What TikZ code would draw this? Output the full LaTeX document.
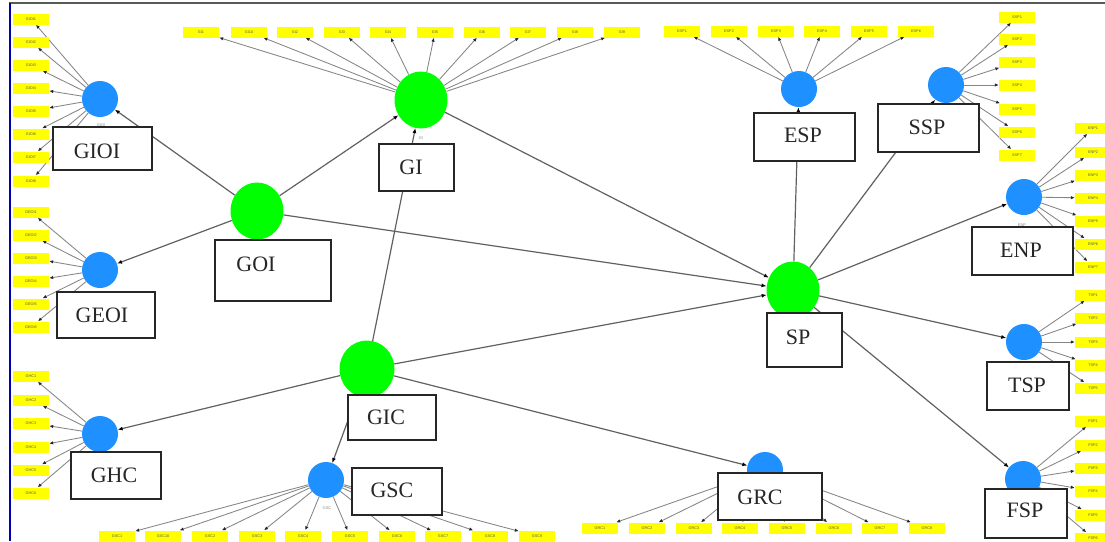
\documentclass[tikz,border=0pt]{standalone}
\usepackage{fontspec}
\setmainfont{Liberation Serif}
\newfontfamily\indfont{Liberation Sans}
\usetikzlibrary{arrows.meta,shapes.geometric}
\definecolor{lvblue}{HTML}{1E90FF}
\definecolor{lvgreen}{HTML}{00FF00}
\definecolor{indyellow}{HTML}{FFFF00}
\pgfdeclarelayer{bg}
\pgfdeclarelayer{paper}
\pgfsetlayers{paper,bg,main}
\begin{document}
\begin{tikzpicture}[x=1pt,y=-1pt,
  blv/.style={circle,fill=lvblue,minimum size=36pt,inner sep=0pt},
  glv/.style={ellipse,fill=lvgreen,minimum width=53pt,minimum height=57pt,inner sep=0pt},
  ind/.style={fill=indyellow,minimum width=36pt,minimum height=11pt,inner sep=0pt,font=\indfont\fontsize{3.8}{4}\selectfont,text=black!65},
  iarr/.style={draw=black!48,line width=0.85pt,-{Latex[length=4pt,width=3.4pt,color=black!85]}},
  sarr/.style={draw=black!62,line width=1.2pt,-{Latex[length=5pt,width=4pt,color=black]}},
  boxs/.style={draw=black!85,line width=1.5pt,fill=white,inner sep=0pt},
  btxt/.style={font=\fontsize{22}{22}\selectfont,text=black!85,inner sep=0pt},
  tinyl/.style={font=\indfont\fontsize{4}{4}\selectfont,text=black!45,inner sep=0pt}
]
\useasboundingbox (0,0) rectangle (1105,541);
\begin{pgfonlayer}{paper}
\fill[white] (0,0) rectangle (1105,541);
\end{pgfonlayer}
% frame
\draw[black!65,line width=1.5pt] (9,3) -- (1105,3);
\draw[blue!70!black,line width=2pt] (10,3) -- (10,541);

% latent variables
\node[blv] (GIOI) at (100,99) {};
\node[blv] (GEOI) at (100,270) {};
\node[blv] (GHC) at (100,434) {};
\node[blv] (GSC) at (326,480) {};
\node[blv] (GRC) at (765,470) {};
\node[blv] (ESP) at (799,89) {};
\node[blv] (SSP) at (946,85) {};
\node[blv] (ENP) at (1024,197) {};
\node[blv] (TSP) at (1024,342) {};
\node[blv] (FSP) at (1023,479) {};
\node[glv] (GI) at (421,100) {};
\node[glv] (GOI) at (257,211) {};
\node[glv,minimum width=55pt] (GIC) at (367,369) {};
\node[glv] (SP) at (793,290) {};

% tiny labels
\node[tinyl] (GIOIs) at (101,125) {GIOI};
\node[tinyl] (GIs) at (421,138) {GI};
\node[tinyl] (GSCs) at (327,508) {GSC};
\node[tinyl] (ENPs) at (1022,225) {ENP};

% indicators
\foreach \n/\y [count=\k] in {GIOI1/19,GIOI2/42,GIOI3/65,GIOI4/88,GIOI5/111,GIOI6/134,GIOI7/157,GIOI8/181}{
  \node[ind] (GIOIi\k) at (31,\y) {\n};
  \begin{pgfonlayer}{bg}\draw[iarr] (GIOI) -- (GIOIi\k);\end{pgfonlayer}}
\foreach \n/\y [count=\k] in {GEOI1/212,GEOI2/235,GEOI3/258,GEOI4/281,GEOI5/304,GEOI6/327}{
  \node[ind] (GEOIi\k) at (31,\y) {\n};
  \begin{pgfonlayer}{bg}\draw[iarr] (GEOI) -- (GEOIi\k);\end{pgfonlayer}}
\foreach \n/\y [count=\k] in {GHC1/376,GHC2/400,GHC3/423,GHC4/447,GHC5/470,GHC6/493}{
  \node[ind] (GHCi\k) at (31,\y) {\n};
  \begin{pgfonlayer}{bg}\draw[iarr] (GHC) -- (GHCi\k);\end{pgfonlayer}}
\foreach \n/\x [count=\k] in {GSC1/117,GSC10/163,GSC2/210,GSC3/257,GSC4/303,GSC5/350,GSC6/397,GSC7/443,GSC8/490,GSC9/537}{
  \node[ind] (GSCi\k) at (\x,536) {\n};
  \begin{pgfonlayer}{bg}\draw[iarr] (GSC) -- (GSCi\k);\end{pgfonlayer}}
\foreach \n/\x [count=\k] in {GRC1/600,GRC2/647,GRC3/694,GRC4/740,GRC5/787,GRC6/834,GRC7/880,GRC8/927}{
  \node[ind] (GRCi\k) at (\x,528) {\n};
  \begin{pgfonlayer}{bg}\draw[iarr] (GRC) -- (GRCi\k);\end{pgfonlayer}}
\foreach \n/\x [count=\k] in {GI1/201,GI10/249,GI2/295,GI3/342,GI4/388,GI5/435,GI6/482,GI7/528,GI8/575,GI9/622}{
  \node[ind] (GIi\k) at (\x,32) {\n};
  \begin{pgfonlayer}{bg}\draw[iarr] (GI) -- (GIi\k);\end{pgfonlayer}}
\foreach \n/\x [count=\k] in {ESP1/682,ESP2/729,ESP3/776,ESP4/822,ESP5/869,ESP6/916}{
  \node[ind] (ESPi\k) at (\x,31) {\n};
  \begin{pgfonlayer}{bg}\draw[iarr] (ESP) -- (ESPi\k);\end{pgfonlayer}}
\foreach \n/\y [count=\k] in {SSP1/17,SSP2/39,SSP3/62,SSP4/85,SSP5/109,SSP6/132,SSP7/155}{
  \node[ind] (SSPi\k) at (1017,\y) {\n};
  \begin{pgfonlayer}{bg}\draw[iarr] (SSP) -- (SSPi\k);\end{pgfonlayer}}
\foreach \n/\y [count=\k] in {ENP1/128,ENP2/152,ENP3/175,ENP4/198,ENP5/221,ENP6/244,ENP7/267}{
  \node[ind] (ENPi\k) at (1093,\y) {\n};
  \begin{pgfonlayer}{bg}\draw[iarr] (ENP) -- (ENPi\k);\end{pgfonlayer}}
\foreach \n/\y [count=\k] in {TSP1/295,TSP2/318,TSP3/342,TSP4/365,TSP5/388}{
  \node[ind] (TSPi\k) at (1093,\y) {\n};
  \begin{pgfonlayer}{bg}\draw[iarr] (TSP) -- (TSPi\k);\end{pgfonlayer}}
\foreach \n/\y [count=\k] in {FSP1/421,FSP2/445,FSP3/468,FSP4/491,FSP5/515,FSP6/538}{
  \node[ind] (FSPi\k) at (1093,\y) {\n};
  \begin{pgfonlayer}{bg}\draw[iarr] (FSP) -- (FSPi\k);\end{pgfonlayer}}

% structural paths
\begin{pgfonlayer}{bg}
\draw[sarr] (GOI) -- (GIOI);
\draw[sarr] (GOI) -- (GEOI);
\draw[sarr] (GOI) -- (GI);
\draw[sarr] (GOI) -- (SP);
\draw[sarr] (GI) -- (SP);
\draw[sarr] (GIC) -- (GI);
\draw[sarr] (GIC) -- (SP);
\draw[sarr] (GIC) -- (GHC);
\draw[sarr] (GIC) -- (GSC);
\draw[sarr] (GIC) -- (GRC);
\draw[sarr] (SP) -- (ESP);
\draw[sarr] (SP) -- (SSP);
\draw[sarr] (SP) -- (ENP);
\draw[sarr] (SP) -- (TSP);
\draw[sarr] (SP) -- (FSP);
\end{pgfonlayer}

% label boxes
\node[boxs,minimum width=99pt,minimum height=43pt] (GIOIb) at (102.5,148.5) {};
\node[btxt] (GIOIt) at (97,151) {GIOI};
\node[boxs,minimum width=98pt,minimum height=46pt] (GEOIb) at (106,315) {};
\node[btxt] (GEOIt) at (102,315) {GEOI};
\node[boxs,minimum width=90pt,minimum height=47pt] (GHCb) at (116,475.5) {};
\node[btxt] (GHCt) at (114,475) {GHC};
\node[boxs,minimum width=90pt,minimum height=47pt] (GSCb) at (397,491.5) {};
\node[btxt] (GSCt) at (392,490) {GSC};
\node[boxs,minimum width=104pt,minimum height=47pt] (GRCb) at (770,496.5) {};
\node[btxt] (GRCt) at (760,497) {GRC};
\node[boxs,minimum width=75pt,minimum height=47pt] (GIb) at (416.5,167.5) {};
\node[btxt] (GIt) at (411,167) {GI};
\node[boxs,minimum width=116pt,minimum height=61pt] (GOIb) at (273,270.5) {};
\node[btxt] (GOIt) at (256,264) {GOI};
\node[boxs,minimum width=88pt,minimum height=45pt] (GICb) at (392,417.5) {};
\node[btxt] (GICt) at (386,417) {GIC};
\node[boxs,minimum width=75pt,minimum height=54pt] (SPb) at (804.5,340) {};
\node[btxt] (SPt) at (798,337) {SP};
\node[boxs,minimum width=101pt,minimum height=48pt] (ESPb) at (804.5,137) {};
\node[btxt] (ESPt) at (803,135) {ESP};
\node[boxs,minimum width=101pt,minimum height=48pt] (SSPb) at (928.5,128) {};
\node[btxt] (SSPt) at (927,127) {SSP};
\node[boxs,minimum width=101pt,minimum height=48pt] (ENPb) at (1022.5,251) {};
\node[btxt] (ENPt) at (1021,250) {ENP};
\node[boxs,minimum width=82pt,minimum height=48pt] (TSPb) at (1028,386) {};
\node[btxt] (TSPt) at (1027,385) {TSP};
\node[boxs,minimum width=82pt,minimum height=49pt] (FSPb) at (1026,513.5) {};
\node[btxt] (FSPt) at (1025,510) {FSP};
\end{tikzpicture}
\end{document}
